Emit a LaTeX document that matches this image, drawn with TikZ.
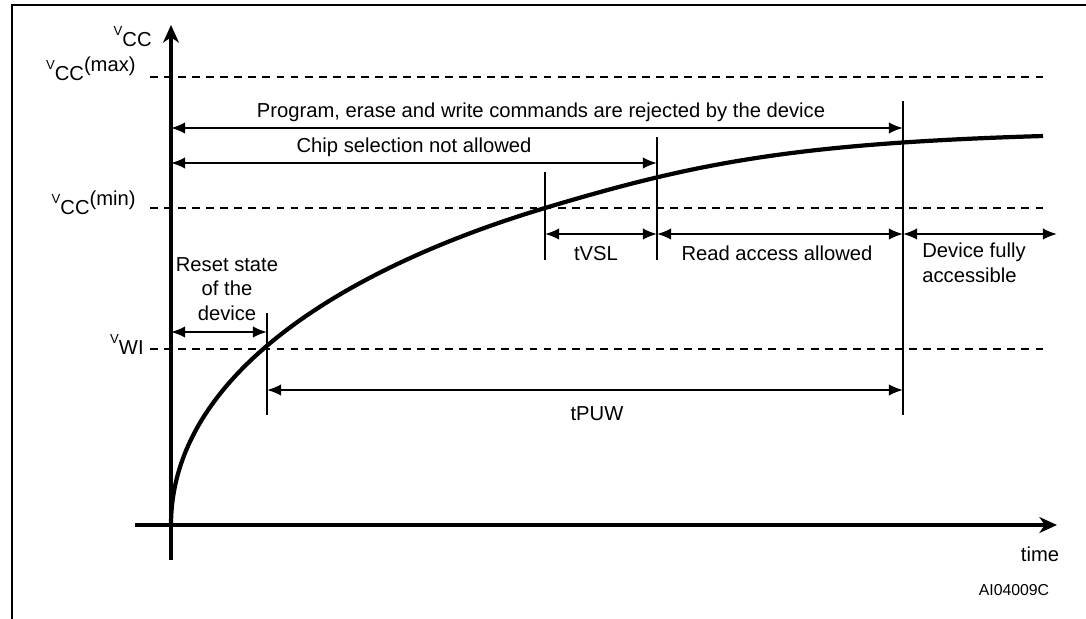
\documentclass[tikz,border=0pt]{standalone}
\usepackage{fontspec}
\setmainfont{Liberation Sans}
\usetikzlibrary{arrows.meta}
\tikzset{%
  frame/.style={line width=1.7pt},
  axis/.style={line width=1.8pt,-{Stealth[length=10pt,width=9pt,inset=3pt]}},
  level/.style={line width=0.7pt,dash pattern=on 4.5pt off 3.5pt},
  tick/.style={line width=0.7pt},
  dim/.style={line width=1.1pt,{Latex[length=8pt,width=6.5pt]}-{Latex[length=8pt,width=6.5pt]}},
  lbl/.style={inner sep=0pt,font=\fontsize{11.5pt}{14pt}\selectfont},
  curve/.style={line width=2.4pt}
}
\newcommand{\vlab}[2]{\raisebox{6pt}{\fontsize{7.5pt}{8pt}\selectfont V}#1\raisebox{4.7pt}{#2}}

\begin{document}
\begin{tikzpicture}[x=0.02cm,y=-0.02cm]
  \useasboundingbox (0,0) rectangle (1086,619);
  \draw[frame] (1086,5) -- (12,5) -- (12,619);
  % axes
  \coordinate (ybot) at (171,560);
  \coordinate (ytop) at (171,25);
  \coordinate (xleft) at (135,525);
  \coordinate (xright) at (1057,525);
  \draw[axis] (ybot) -- (ytop);
  \draw[axis] (xleft) -- (xright);
  \node[lbl,anchor=base east] (vcc) at (152,46) {\vlab{CC}{}};
  \node[lbl,anchor=base] (time) at (1040,561) {time};
  \node[lbl,anchor=base,font=\fontsize{9pt}{10pt}\selectfont] (ref) at (1014,595) {AI04009C};
  % levels
  \coordinate (max0) at (150,77);
  \coordinate (max1) at (1043,77);
  \coordinate (min0) at (150,208);
  \coordinate (min1) at (1043,208);
  \coordinate (wi0) at (150,349);
  \coordinate (wi1) at (1043,349);
  \draw[level] (max0) -- (max1);
  \draw[level] (min0) -- (min1);
  \draw[level] (wi0) -- (wi1);
  \node[lbl,anchor=base east] (vmax) at (136,80) {\vlab{CC}{(max)}};
  \node[lbl,anchor=base east] (vmin) at (136,214) {\vlab{CC}{(min)}};
  \node[lbl,anchor=base east] (vwi) at (144,354) {\vlab{WI}{}};
  % supply ramp
  \draw[curve] (171,525) .. controls (171,375) and (345,268) .. (545,208)
    .. controls (695,163) and (793,143.5) .. (1043,136);
  % markers
  \coordinate (a0) at (267,313);
  \coordinate (a1) at (267,415);
  \coordinate (b0) at (545,172);
  \coordinate (b1) at (545,260);
  \coordinate (c0) at (657,137);
  \coordinate (c1) at (657,260);
  \coordinate (d0) at (903,101);
  \coordinate (d1) at (903,415);
  \draw[tick] (a0) -- (a1);
  \draw[tick] (b0) -- (b1);
  \draw[tick] (c0) -- (c1);
  \draw[tick] (d0) -- (d1);
  %%%
  \coordinate (p0) at (171,128);
  \coordinate (p1) at (903,128);
  \coordinate (q0) at (171,163);
  \coordinate (q1) at (657,163);
  \coordinate (r0) at (545,234);
  \coordinate (r1) at (657,234);
  \coordinate (r2) at (903,234);
  \coordinate (r3) at (1057,234);
  \coordinate (s0) at (171,332);
  \coordinate (s1) at (267,332);
  \coordinate (t0) at (267,390);
  \coordinate (t1) at (903,390);
  \draw[dim] (p0) -- (p1);
  \draw[dim] (q0) -- (q1);
  \draw[dim] (r0) -- (r1);
  \draw[dim] (r1) -- (r2);
  \draw[dim] (r2) -- (r3);
  \draw[dim] (s0) -- (s1);
  \draw[dim] (t0) -- (t1);
  \node[lbl,anchor=base] (prog) at (541,117) {Program, erase and write commands are rejected by the device};
  \node[lbl,anchor=base] (chip) at (414,152) {Chip selection not allowed};
  \node[lbl,anchor=base] (tvsl) at (596,260) {tVSL};
  \node[lbl,anchor=base] (read) at (777,260) {Read access allowed};
  \node[lbl,anchor=north west,align=left] (full) at (922,243) {Device fully\\accessible};
  \node[lbl,anchor=south,align=center] (reset) at (227,321) {Reset state\\of the\\device};
  \node[lbl,anchor=base] (tpuw) at (597,420) {tPUW};
\end{tikzpicture}
\end{document}
